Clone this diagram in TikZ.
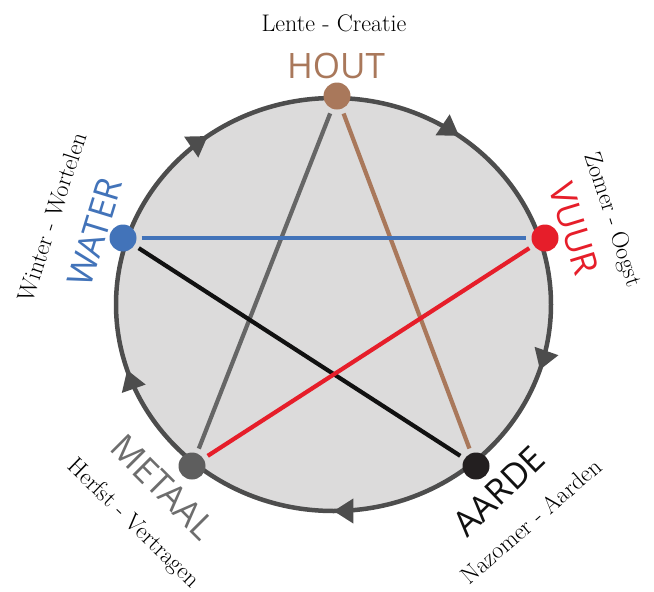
\documentclass[tikz,border=0pt]{standalone}
\usepackage{fontspec}
\newfontfamily\labelfont{Open Sans}
\usetikzlibrary{arrows.meta,decorations.markings}
\definecolor{fillc}{RGB}{220,219,219}
\definecolor{ringc}{RGB}{77,77,77}
\definecolor{bluec}{RGB}{66,115,185}
\definecolor{redc}{RGB}{230,30,42}
\definecolor{brownc}{RGB}{169,120,91}
\definecolor{grayl}{RGB}{102,102,102}
\definecolor{grayd}{RGB}{94,94,94}
\definecolor{graytxt}{RGB}{109,109,109}
\definecolor{blackl}{RGB}{17,17,17}
\definecolor{blackd}{RGB}{35,31,32}
\begin{document}
\begin{tikzpicture}[x=1pt,y=1pt,
  dotnode/.style={circle,minimum size=27pt,inner sep=0pt},
  conn/.style={line width=4.2pt,shorten <=5pt,shorten >=5pt},
  lab/.style={font=\labelfont\fontsize{35}{40}\selectfont,inner sep=0pt},
  season/.style={font=\fontsize{24}{28}\selectfont\addfontfeatures{FakeStretch=1.1},inner sep=0pt},
  ringarrow/.style={decoration={markings,
    mark=at position 0.05 with {\arrow{Triangle[length=20pt,width=24pt]}},
    mark=at position 0.25 with {\arrow{Triangle[length=20pt,width=24pt]}},
    mark=at position 0.45 with {\arrow{Triangle[length=20pt,width=24pt]}},
    mark=at position 0.65 with {\arrow{Triangle[length=20pt,width=24pt]}},
    mark=at position 0.85 with {\arrow{Triangle[length=20pt,width=24pt]}}},
    postaction={decorate}}]
\fill[white] (0,0) rectangle (654,-592);
\useasboundingbox (0,0) rectangle (654,-592);
% ring
\path[draw=ringc,line width=4.5pt,fill=fillc,ringarrow]
  (551,-304.5) arc[start angle=0,end angle=-360,x radius=217.5,y radius=206.5];
% dots
\node[dotnode,fill=brownc] (hout) at (337,-96) {};
\node[dotnode,fill=redc] (vuur) at (545,-238) {};
\node[dotnode,fill=blackd] (aarde) at (476,-466) {};
\node[dotnode,fill=grayd] (metaal) at (192,-466) {};
\node[dotnode,fill=bluec] (water) at (123,-238) {};
% connectors
\draw[conn,draw=grayl] (hout) -- (metaal);
\draw[conn,draw=brownc] (hout) -- (aarde);
\draw[conn,draw=bluec] (water) -- (vuur);
\draw[conn,draw=blackl] (water) -- (aarde);
\draw[conn,draw=redc] (vuur) -- (metaal);
% element labels
\node[lab,text=brownc] (lhout) at (336,-66) {HOUT};
\node[lab,text=redc,rotate=-73] (lvuur) at (574,-229) {VUUR};
\node[lab,text=bluec,rotate=73] (lwater) at (95,-232) {WATER};
\node[lab,text=graytxt,rotate=-45] (lmetaal) at (163,-487) {METAAL};
\node[lab,text=blackl,rotate=44] (laarde) at (499,-491) {AARDE};
% season labels
\node[season] (shout) at (334,-23) {Lente - Creatie};
\node[season,rotate=-72] (svuur) at (612,-220) {Zomer - Oogst};
\node[season,rotate=72] (swater) at (52,-217) {Winter - Wortelen};
\node[season,rotate=-44] (smetaal) at (133,-524) {Herfst - Vertragen};
\node[season,rotate=41] (saarde) at (531,-521) {Nazomer - Aarden};
\end{tikzpicture}
\end{document}
